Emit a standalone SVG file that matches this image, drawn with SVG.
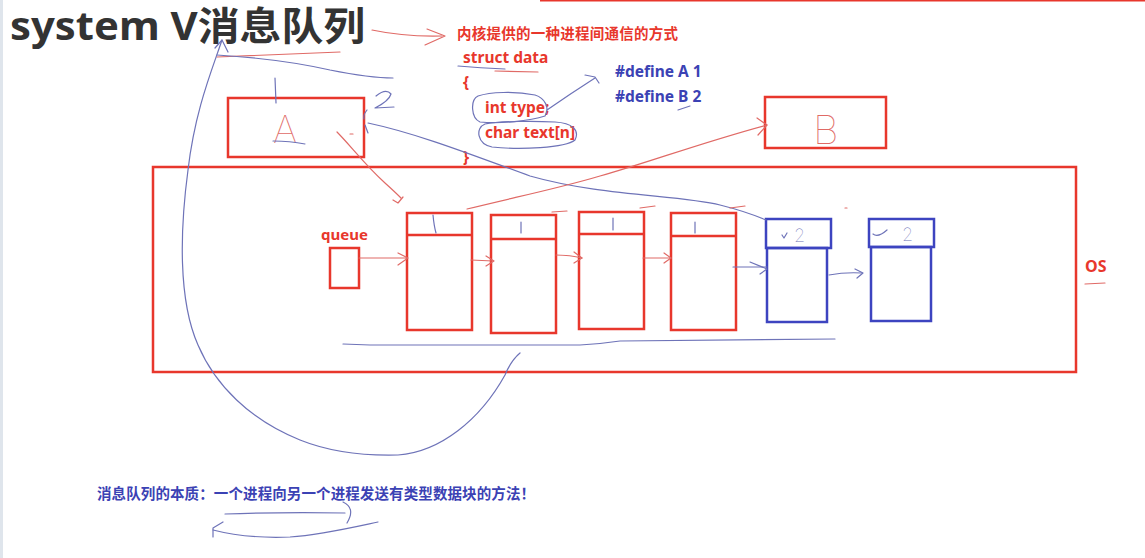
<svg xmlns="http://www.w3.org/2000/svg" width="1145" height="558" viewBox="0 0 1145 558">
<defs>
<style>
.bg{fill:#ffffff}
.t{font-family:"Noto Sans","Noto Sans CJK SC","Open Sans",sans-serif;font-weight:bold}
.red{fill:#e8372c}
.blu{fill:#3b42b4}
.boxr{fill:none;stroke:#e8372c;stroke-width:2.5}
.boxb{fill:none;stroke:#3d44c0;stroke-width:2.5}
.hb{fill:none;stroke:#6e73b8;stroke-width:1.2;stroke-linecap:round;stroke-linejoin:round}
.hr{fill:none;stroke:#e06a66;stroke-width:1.2;stroke-linecap:round;stroke-linejoin:round}
.hand{font-family:"Inter","Lato","DejaVu Sans",sans-serif;font-weight:100}
</style>
</defs>
<rect class="bg" x="0" y="0" width="1145" height="558"/>
<rect x="0" y="0" width="3" height="558" fill="#dfe5ec"/>
<line x1="540" y1="0.8" x2="1145" y2="0.8" stroke="#e8372c" stroke-width="1.5"/>

<g id="title">
<text class="t" x="10" y="40" font-size="39" fill="#333333" textLength="355" lengthAdjust="spacingAndGlyphs">system V消息队列</text>
</g>

<g id="note">
<text class="t red" x="457" y="39" font-size="14.5" textLength="221">内核提供的一种进程间通信的方式</text>
</g>

<g id="struct">
<text class="t red" x="463" y="63" font-size="15.5">struct data</text>
<text class="t red" x="463" y="88" font-size="15.5">{</text>
<text class="t red" x="485" y="113" font-size="15.5">int type;</text>
<text class="t red" x="485" y="138" font-size="15.5">char text[n]</text>
<text class="t red" x="463" y="163" font-size="15.5">}</text>
</g>

<g id="defines">
<text class="t blu" x="615" y="77" font-size="15.5">#define A 1</text>
<text class="t blu" x="615" y="102" font-size="15.5">#define B 2</text>
</g>

<g id="processA">
<rect class="boxr" x="228" y="98" width="136" height="59"/>
<text class="hand" x="273" y="143" font-size="38" fill="#e06a66">A</text>
</g>

<g id="processB">
<rect class="boxr" x="765" y="97" width="121" height="51"/>
<text class="hand" x="813" y="144" font-size="40" fill="#e06a66">B</text>
</g>

<g id="os">
<rect class="boxr" x="153" y="167" width="923" height="205"/>
<text class="t red" x="1085" y="272" font-size="16">OS</text>
</g>

<g id="queue">
<text class="t red" x="321" y="240" font-size="15">queue</text>
<rect class="boxr" x="330" y="248" width="29" height="40"/>
</g>

<g id="msg1">
<rect class="boxr" x="407" y="213" width="65" height="117"/>
<line class="boxr" x1="407" y1="235" x2="472" y2="235"/>
</g>
<g id="msg2">
<rect class="boxr" x="491" y="215" width="65" height="118"/>
<line class="boxr" x1="491" y1="239" x2="556" y2="239"/>
</g>
<g id="msg3">
<rect class="boxr" x="579" y="212" width="65" height="117"/>
<line class="boxr" x1="579" y1="234" x2="644" y2="234"/>
</g>
<g id="msg4">
<rect class="boxr" x="671" y="213" width="65" height="117"/>
<line class="boxr" x1="671" y1="236" x2="736" y2="236"/>
</g>
<g id="msg5">
<rect class="boxb" x="766" y="219" width="65" height="29"/>
<rect class="boxb" x="767" y="248" width="60" height="74"/>
<text class="hand" x="794" y="242" font-size="18" fill="#6e73b8">2</text>
</g>
<g id="msg6">
<rect class="boxb" x="869" y="219" width="65" height="28"/>
<rect class="boxb" x="871" y="247" width="60" height="74"/>
<text class="hand" x="902" y="241" font-size="18" fill="#6e73b8">2</text>
</g>

<g id="summary">
<text class="t blu" x="97" y="499" font-size="14.5" textLength="438">消息队列的本质：一个进程向另一个进程发送有类型数据块的方法！</text>
</g>

<g id="connectors">
<path class="hr" d="M372 30 Q405 37 442 36"/>
<path class="hr" d="M427 29 L445 36 L425 45"/>
<path class="hr" d="M217 57 L340 52"/>
<path class="hb" d="M222 40 C212 70 195 110 188 170 C180 230 178 300 198 345 C215 385 250 420 300 440 C330 452 360 456 398 455 C440 452 480 420 505 375 C510 363 514 358 520 353"/>
<path class="hb" d="M215 48 L222 40 L228 52"/>
<path class="hb" d="M217 55 C250 57 290 61 330 70 C360 76 380 78 393 78"/>
<path class="hb" d="M458 66 Q480 68 505 69"/>
<path class="hr" d="M495 71 L538 72"/>
<path class="hb" d="M478 96 C470 100 471 118 480 122 C500 124 530 121 545 116 C550 108 545 98 535 95 C515 91 490 92 478 96 Z"/>
<path class="hb" d="M485 124 C475 128 477 144 492 147 C520 150 565 148 575 140 C580 130 572 123 555 122 C535 121 500 121 485 124 Z"/>
<path class="hb" d="M547 110 Q570 94 595 78"/>
<path class="hb" d="M585 75 L595 77 L599 83"/>
<path class="hb" d="M678 110 L690 106"/>
<path class="hb" d="M275 78 L276 103"/>
<path class="hb" d="M376 96 Q386 88 391 94 Q389 101 375 108 L394 107"/>
<path class="hb" d="M367 110 Q363 115 364 119"/>
<path class="hb" d="M273 141 Q290 141 305 144"/>
<path class="hr" d="M350 134 L353 134"/>
<path class="hr" d="M337 132 C350 145 365 165 385 183 Q395 192 401 198"/>
<path class="hr" d="M393 200 L398 203 L403 197"/>
<path class="hb" d="M368 123 C420 134 480 158 530 176 C600 196 680 195 720 205 C740 210 752 214 766 220"/>
<path class="hb" d="M365 125 L368 133"/>
<path class="hr" d="M467 209 C520 196 560 188 600 176 C650 162 700 143 767 125"/>
<path class="hr" d="M757 118 L767 125 L758 135"/>
<path class="hr" d="M552 212 L567 211"/>
<path class="hr" d="M640 208 L655 206"/>
<path class="hr" d="M730 208 L745 206"/>
<path class="hr" d="M845 208 L847 208"/>
<path class="hb" d="M433 215 Q434 226 436 233"/>
<path class="hb" d="M521 222 L521 233"/>
<path class="hb" d="M613 218 L613 230"/>
<path class="hb" d="M695 222 L695 233"/>
<path class="hb" d="M782 235 L784 238 L787 233"/>
<path class="hb" d="M873 234 Q878 238 887 230"/>
<path class="hr" d="M359 258 L407 258"/>
<path class="hr" d="M398 253 L408 258 L398 265"/>
<path class="hr" d="M471 260 L493 261"/>
<path class="hr" d="M486 256 L494 261 L486 266"/>
<path class="hr" d="M556 255 Q570 255 582 258"/>
<path class="hr" d="M574 252 L582 258 L574 263"/>
<path class="hr" d="M643 258 L671 258"/>
<path class="hr" d="M664 253 L671 258 L664 263"/>
<path class="hb" d="M733 267 L767 267"/>
<path class="hb" d="M750 262 L767 269 L760 274"/>
<path class="hb" d="M829 275 Q845 272 862 273"/>
<path class="hb" d="M855 269 L863 273 L857 278"/>
<path class="hb" d="M343 344 L370 345 L580 345 Q600 344 620 341 L835 339"/>
<path class="hr" d="M1085 284 L1105 283"/>
<path class="hb" d="M225 514 Q280 512 345 513"/>
<path class="hb" d="M343 502 Q356 508 347 523"/>
<path class="hb" d="M378 522 C350 528 320 535 290 537 C265 538 240 537 213 530"/>
<path class="hb" d="M223 522 L213 528 L213 537"/>
</g>
</svg>
